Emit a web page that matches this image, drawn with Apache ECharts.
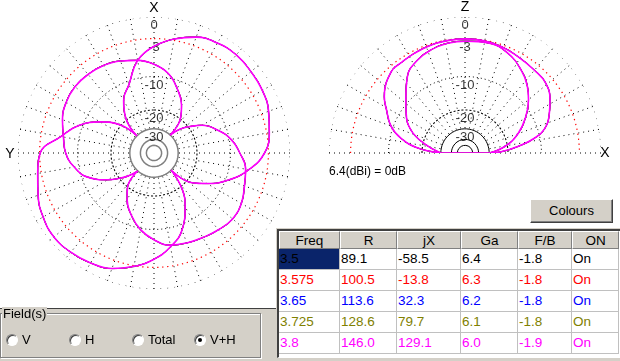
<!DOCTYPE html>
<html><head><meta charset="utf-8">
<script src="https://cdn.jsdelivr.net/npm/echarts@6/dist/echarts.min.js"></script>
<style>
html,body{margin:0;padding:0;width:620px;height:361px;overflow:hidden;background:#fff;font-family:"Liberation Sans",Arial,sans-serif;}
#chart{position:absolute;left:0;top:0;width:620px;height:361px;}
.abs{position:absolute;box-sizing:border-box;}
.cell{position:absolute;box-sizing:border-box;font-size:13px;line-height:20px;white-space:nowrap;overflow:hidden;}
.hdr{background:#d4d0c8;border-top:1px solid #fff;border-left:1px solid #fff;border-right:1px solid #808080;border-bottom:1px solid #808080;text-align:center;color:#000;}
.dat{background:#fff;border-right:1px solid #c0c0c0;border-bottom:1px solid #c0c0c0;padding-left:1px;}
.radio{position:absolute;width:12px;height:12px;border-radius:50%;box-sizing:border-box;border:1px solid #808080;border-right-color:#fff;border-bottom-color:#fff;background:#fff;box-shadow:inset 1px 1px 0 #404040;}
.rlabel{position:absolute;font-size:13px;line-height:14px;color:#000;}
</style></head><body>
<div id="chart"></div>
<div id="ui"></div>
<script>
// ---------- data ----------
const frequencies = ['3.5', '3.575', '3.65', '3.725', '3.8'];
const freqColors = ['#000000', '#ff0000', '#0000ff', '#808000', '#ff00ff'];
const tableHeaders = ['Freq', 'R', 'jX', 'Ga', 'F/B', 'ON'];
const tableR = ['89.1', '100.5', '113.6', '128.6', '146.0'];
const tableJX = ['-58.5', '-13.8', '32.3', '79.7', '129.1'];
const tableGa = ['6.4', '6.3', '6.2', '6.1', '6.0'];
const tableFB = ['-1.8', '-1.8', '-1.8', '-1.8', '-1.9'];
const tableOn = ['On', 'On', 'On', 'On', 'On'];
const ringLevels = [0, -3, -10, -20, -30, -40, -50];
const ringLabels = ['0', '-3', '-10', '-20', '-30'];
const fieldOptions = ['V', 'H', 'Total', 'V+H'];
const gainNote = '6.4(dBi) = 0dB';

// azimuth pattern, [azimuth deg (clockwise from X), dB]
const azPatternA = [
  [0,-4.2],[10,-2.8],[20,-1.7],[30,-1.2],[40,-1.05],[50,-1.25],[60,-1.45],[70,-1.9],[80,-2.6],
  [90,-3.6],[100,-6.0],[110,-9.4],[120,-13.9],[128,-18],[135,-30],[142,-19],[150,-13.6],
  [160,-8.8],[170,-6.2],[180,-4.3],[190,-2.9],[200,-1.75],[210,-1.2],[220,-0.85],[230,-0.7],
  [240,-1.05],[250,-1.7],[260,-2.45],[270,-3.1],[280,-6.3],[290,-9.2],[300,-13.6],[310,-20],
  [315,-30],[321,-19.3],[330,-14],[340,-10.8],[350,-6.4],[360,-4.2]
];
const azPatternB = [
  [0,-7.4],[10,-9.0],[20,-12.0],[30,-15.7],[37,-19.5],[42,-30],[48,-23],[55,-18.5],[60,-15.6],
  [70,-12.2],[80,-9.6],[90,-8.0],[100,-6.6],[110,-6.0],[120,-5.2],[130,-4.9],[140,-5.3],
  [150,-5.75],[160,-6.1],[170,-6.5],[180,-7.8],[190,-9.7],[200,-12.5],[210,-16.1],[217,-19.5],
  [222,-30],[228,-24],[233,-20.6],[240,-16.2],[250,-11.4],[260,-9.0],[270,-7.5],[280,-6.8],
  [290,-5.8],[300,-5.1],[310,-4.8],[320,-4.9],[330,-5.15],[340,-5.7],[350,-6.4],[360,-7.4]
];
// elevation pattern, [angle deg from left horizon, dB]
const elPatternA = [
  [0,-30],[6,-18.3],[13,-12.6],[20,-9.5],[29,-7.2],[35,-5.6],[48,-3.7],[55,-3.6],[63,-3.4],
  [72,-3.2],[81,-3.1],[90,-3.05],[99,-3.1],[109,-3.3],[119,-3.7],[130,-4.0],[139,-4.2],
  [148,-5.3],[155,-6.6],[163,-8.5],[168,-11.3],[173,-16.3],[178,-23],[180,-30]
];
const elPatternB = [
  [0,-30],[13,-20.5],[23,-14.6],[34,-11.3],[42,-9.3],[53,-6.1],[63,-4.6],[72,-3.9],[81,-3.5],
  [91,-3.4],[102,-3.3],[113,-3.9],[124,-5.3],[133,-6.9],[140,-8.6],[149,-11.3],[160,-15.3],
  [171,-21.3],[180,-30]
];

// ---------- helpers ----------
const FLOOR = -30;
function ampRaw(db) { return Math.pow(10, db / 40); }
function amp(db) { return ampRaw(Math.max(db, FLOOR)); }
function ringData(level, a0, a1, step) {
  const out = [];
  for (let a = a0; a <= a1; a += step) out.push([ampRaw(level), a]);
  return out;
}
const AZ_C = [154, 153], EL_C = [465, 153], R = 136;

const ringStyleAz = {
  '0': {color:'#000', type:[1,6], width:1},
  '-3': {color:'#ff0000', type:[1.3,3.7], width:1.2},
  '-10': {color:'#000', type:[1,3], width:1},
  '-20': {color:'#000', type:[2,2], width:1.1},
  '-30': {color:'#808080', type:'solid', width:1.5},
  '-40': {color:'#808080', type:'solid', width:1.5},
  '-50': {color:'#808080', type:'solid', width:1.5}
};
const ringStyleEl = {
  '0': {color:'#000', type:[1,6], width:1},
  '-3': {color:'#ff0000', type:[1.3,3.7], width:1.2},
  '-10': {color:'#000', type:[1,3], width:1},
  '-20': {color:'#000', type:[2,2], width:1.1},
  '-30': {color:'#000', type:'solid', width:1},
  '-40': {color:'#000', type:'solid', width:1},
  '-50': {color:'#000', type:'solid', width:1}
};

const series = [];
ringLevels.forEach(L => {
  series.push({type:'line', coordinateSystem:'polar', polarIndex:0, data:ringData(L,0,360,1),
    showSymbol:false, silent:true, smooth:false, lineStyle:ringStyleAz[String(L)], z:1});
  series.push({type:'line', coordinateSystem:'polar', polarIndex:2, data:ringData(L,0,180,1),
    showSymbol:false, silent:true, smooth:false, lineStyle:ringStyleEl[String(L)], z:1});
});
// ring labels
[0, 2].forEach(pi => {
  series.push({type:'scatter', coordinateSystem:'polar', polarIndex:pi, symbolSize:0, silent:true,
    data: ringLabels.map((t, i) => ({value:[ampRaw(ringLevels[i]), pi === 0 ? 0 : 90], name:t})),
    label:{show:true, position:'bottom', distance:2, formatter:p => p.name, color:'#000',
      fontSize:13, fontFamily:'Liberation Sans, Arial, sans-serif'}, z:3});
});
// patterns, one series per frequency, last (3.8) on top
frequencies.forEach((f, i) => {
  const w = i === frequencies.length - 1 ? 1.6 : 0.8;
  [azPatternA, azPatternB].forEach(p => series.push({type:'line', coordinateSystem:'polar', polarIndex:0,
    data:p.map(([a, d]) => [amp(d), a]), showSymbol:false, smooth:0.45, silent:true,
    lineStyle:{color:freqColors[i], width:w}, z:5 + i}));
  [elPatternA, elPatternB].forEach(p => series.push({type:'line', coordinateSystem:'polar', polarIndex:2,
    data:p.map(([a, d]) => [amp(d), a]), showSymbol:false, smooth:0.45, silent:true,
    lineStyle:{color:freqColors[i], width:w}, z:5 + i}));
  series.push({type:'line', coordinateSystem:'polar', polarIndex:2,
    data:[[amp(FLOOR), 0], [amp(FLOOR), 180]], showSymbol:false, silent:true,
    lineStyle:{color:freqColors[i], width:w}, z:5 + i});
});

const hiddenAxis = {axisLine:{show:false}, axisTick:{show:false}, axisLabel:{show:false}, splitLine:{show:false}};
const radial = {show:true, lineStyle:{color:'#000', type:[1,4], width:1}};

const option = {
  animation:false,
  polar:[
    {center:AZ_C, radius:[0, R]},
    {center:AZ_C, radius:[24, R]},
    {center:EL_C, radius:[0, R]},
    {center:EL_C, radius:[24, R]}
  ],
  angleAxis:[
    Object.assign({polarIndex:0, type:'value', min:0, max:360, startAngle:90, clockwise:true}, hiddenAxis),
    Object.assign({polarIndex:1, type:'value', min:0, max:360, interval:10, startAngle:90, clockwise:true}, hiddenAxis, {splitLine:radial}),
    Object.assign({polarIndex:2, type:'value', min:0, max:180, startAngle:180, endAngle:0, clockwise:true}, hiddenAxis),
    Object.assign({polarIndex:3, type:'value', min:0, max:180, interval:10, startAngle:180, endAngle:0, clockwise:true}, hiddenAxis, {splitLine:radial})
  ],
  radiusAxis:[0,1,2,3].map(i => Object.assign({polarIndex:i, type:'value', min:0, max:1}, hiddenAxis)),
  graphic:[
    {type:'text', x:AZ_C[0], y:8, style:{text:'X', fill:'#000', font:'14px Liberation Sans, Arial', align:'center', verticalAlign:'middle'}},
    {type:'text', x:10, y:AZ_C[1] + 1, style:{text:'Y', fill:'#000', font:'14px Liberation Sans, Arial', align:'center', verticalAlign:'middle'}},
    {type:'text', x:EL_C[0], y:7, style:{text:'Z', fill:'#000', font:'14px Liberation Sans, Arial', align:'center', verticalAlign:'middle'}},
    {type:'text', x:605, y:EL_C[1], style:{text:'X', fill:'#000', font:'14px Liberation Sans, Arial', align:'center', verticalAlign:'middle'}},
    {type:'text', x:329, y:172, style:{text:gainNote, fill:'#000', font:'12px Liberation Sans, Arial', align:'left', verticalAlign:'middle'}}
  ],
  series:series
};
echarts.init(document.getElementById('chart'), null, {renderer:'canvas'}).setOption(option);

// ---------- UI (table, button, field selector) ----------
const ui = document.getElementById('ui');
function el(cls, css, html) {
  const d = document.createElement('div'); d.className = cls; d.style.cssText = css;
  if (html !== undefined) d.textContent = html; ui.appendChild(d); return d;
}
el('abs', 'left:0;top:308px;width:278px;height:53px;background:#d4d0c8;border-top:1px solid #404040;');
el('abs', 'left:0;top:313px;width:261px;height:45px;border:1px solid #808080;box-shadow:1px 1px 0 #fff inset, 1px 1px 0 #fff;');
el('rlabel', 'left:2px;top:307px;background:#d4d0c8;padding:0 1px;', 'Field(s)');
const radioX = [12, 75, 138, 200];
fieldOptions.forEach((t, i) => {
  const r = el('radio', 'left:' + (radioX[i] - 6) + 'px;top:334px;');
  if (t === 'V+H') {
    const dot = document.createElement('div');
    dot.style.cssText = 'position:absolute;left:3px;top:3px;width:4px;height:4px;border-radius:50%;background:#000;';
    r.appendChild(dot);
  }
  el('rlabel', 'left:' + (radioX[i] + 10) + 'px;top:333px;', t);
});
el('abs', 'left:276px;top:228px;width:344px;height:133px;background:#d4d0c8;');
el('abs', 'left:277px;top:229px;width:343px;height:129px;border-top:2px solid #404040;border-left:2px solid #404040;border-bottom:1px solid #fff;background:#fff;');
const colX = [279, 340, 397, 461, 518, 572, 619];
const rowY = [231, 249, 270, 291, 312, 333, 354];
tableHeaders.forEach((h, c) => {
  el('cell hdr', 'left:' + colX[c] + 'px;top:' + rowY[0] + 'px;width:' + (colX[c+1]-colX[c]) + 'px;height:' + (rowY[1]-rowY[0]) + 'px;line-height:17px;font-size:13.5px;', h);
});
const cols = [frequencies, tableR, tableJX, tableGa, tableFB, tableOn];
frequencies.forEach((f, r) => {
  cols.forEach((col, c) => {
    let css = 'left:' + colX[c] + 'px;top:' + rowY[r+1] + 'px;width:' + (colX[c+1]-colX[c]) + 'px;height:' + (rowY[r+2]-rowY[r+1]) + 'px;color:' + freqColors[r] + ';font-size:13.5px;';
    if (r === 0 && c === 0) css += 'background:#0a246a;';
    el('cell dat', css, col[r]);
  });
});
el('abs', 'left:530px;top:199px;width:83px;height:24px;background:#d4d0c8;border-top:1px solid #fff;border-left:1px solid #fff;border-right:1px solid #404040;border-bottom:1px solid #404040;box-shadow:inset -1px -1px 0 #808080;font-size:13px;line-height:21px;text-align:center;color:#000;', 'Colours');
</script>
</body></html>
